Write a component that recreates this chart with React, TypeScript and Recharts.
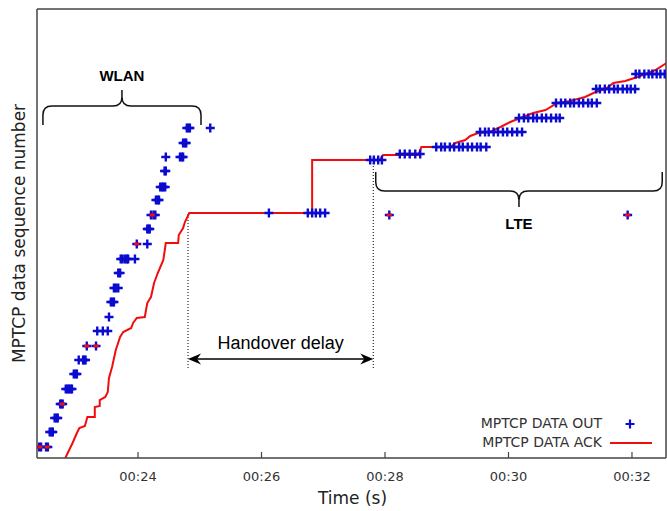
import React from 'react';
import {
  ComposedChart,
  Scatter,
  Line,
  XAxis,
  YAxis,
  ReferenceLine,
  Legend
} from 'recharts';

// time in seconds (t), MPTCP data sequence number in plot units (s)
const timeTicks = [24, 26, 28, 30, 32];
const tickLabels = ['00:24', '00:26', '00:28', '00:30', '00:32'];

// DATA OUT sent over WLAN: one row per sequence level
const wlanOut = [
  { s: 11, t: [22.4, 22.43, 22.51, 22.54] },
  { s: 26, t: [22.57, 22.6, 22.62] },
  { s: 40, t: [22.65, 22.68, 22.7] },
  { s: 54, t: [22.74, 22.76, 22.78] },
  { s: 69, t: [22.83, 22.86, 22.88, 22.91, 22.93] },
  { s: 84, t: [22.96, 22.99, 23.01] },
  { s: 98, t: [23.04, 23.11, 23.13, 23.15] },
  { s: 112, t: [23.17, 23.32] },
  { s: 127, t: [23.34, 23.43, 23.51] },
  { s: 141, t: [23.53] },
  { s: 156, t: [23.56, 23.59, 23.61] },
  { s: 170, t: [23.61, 23.64, 23.68] },
  { s: 185, t: [23.68, 23.71] },
  { s: 199, t: [23.72, 23.75, 23.79, 23.82, 23.84, 23.95] },
  { s: 214, t: [23.98, 24.15] },
  { s: 229, t: [24.15, 24.17, 24.19] },
  { s: 243, t: [24.21, 24.25, 24.28] },
  { s: 258, t: [24.29, 24.32, 24.34] },
  { s: 271, t: [24.36, 24.39, 24.41, 24.44] },
  { s: 287, t: [24.43, 24.45] },
  { s: 301, t: [24.45, 24.68, 24.71, 24.73] },
  { s: 315, t: [24.73, 24.76, 24.78] },
  { s: 330, t: [24.79, 24.82, 24.84, 25.17] }
];

// DATA OUT during the handover gap
const handoverOut = [{ s: 245, t: [26.12, 26.75, 26.82, 26.88, 26.95, 27.03] }];

// DATA OUT sent over LTE
const lteOut = [
  { s: 298, t: [27.76, 27.82, 27.89, 27.95] },
  { s: 304, t: [28.24, 28.32, 28.4, 28.49, 28.57] },
  { s: 311, t: [28.83, 28.91, 28.97, 29.05, 29.12, 29.2, 29.26, 29.34, 29.41, 29.49, 29.55, 29.64] },
  { s: 326, t: [29.54, 29.62, 29.68, 29.76, 29.83, 29.91, 29.98, 30.06, 30.14, 30.22] },
  { s: 340, t: [30.17, 30.25, 30.32, 30.4, 30.46, 30.54, 30.61, 30.69, 30.77, 30.83] },
  { s: 355, t: [30.77, 30.85, 30.92, 31.0, 31.06, 31.14, 31.21, 31.29, 31.35, 31.43] },
  { s: 369, t: [31.42, 31.48, 31.56, 31.63, 31.71, 31.77, 31.85, 31.92, 31.98, 32.05] },
  { s: 384, t: [32.06, 32.12, 32.2, 32.27, 32.33, 32.4, 32.46, 32.53] },
  { s: 243, t: [28.07, 31.93] }
];

// out packets drawn with a red centre
const redCentres = [
  { t: 22.41, s: 11 },
  { t: 22.53, s: 11 },
  { t: 22.77, s: 54 },
  { t: 23.17, s: 112 },
  { t: 23.32, s: 112 },
  { t: 23.98, s: 214 },
  { t: 24.23, s: 243 },
  { t: 28.07, s: 243 },
  { t: 31.93, s: 243 }
];

// DATA ACK curve
const ackWlan = [
  { t: 22.82, s: 0 }, { t: 22.83, s: 1 }, { t: 22.94, s: 15 }, { t: 23.01, s: 25 },
  { t: 23.05, s: 30 }, { t: 23.14, s: 32 }, { t: 23.18, s: 41 }, { t: 23.3, s: 41 },
  { t: 23.3, s: 51 }, { t: 23.38, s: 52 }, { t: 23.38, s: 58 }, { t: 23.47, s: 61 },
  { t: 23.51, s: 66 }, { t: 23.53, s: 80 }, { t: 23.58, s: 91 }, { t: 23.64, s: 108 },
  { t: 23.71, s: 121 }, { t: 23.76, s: 126 }, { t: 23.89, s: 130 }, { t: 23.92, s: 135 },
  { t: 23.98, s: 140 }, { t: 24.11, s: 141 }, { t: 24.15, s: 155 }, { t: 24.21, s: 161 },
  { t: 24.26, s: 175 }, { t: 24.32, s: 185 }, { t: 24.41, s: 198 }, { t: 24.45, s: 215 },
  { t: 24.65, s: 215 }, { t: 24.66, s: 223 }, { t: 24.73, s: 230 }, { t: 24.76, s: 236 },
  { t: 24.83, s: 245 }
];
const ackHandover = [
  { t: 26.82, s: 245 }, { t: 26.82, s: 298 }, { t: 27.92, s: 298 }
];
const ackLte = [
  { t: 27.97, s: 303 }, { t: 28.54, s: 303 }, { t: 28.59, s: 311 }, { t: 29.06, s: 311 },
  { t: 29.14, s: 315 }, { t: 29.3, s: 318 }, { t: 29.38, s: 322 }, { t: 29.51, s: 325 },
  { t: 29.7, s: 326 }, { t: 29.87, s: 331 }, { t: 30.03, s: 336 }, { t: 30.19, s: 340 },
  { t: 30.4, s: 345 }, { t: 30.6, s: 348 }, { t: 30.79, s: 355 }, { t: 31.0, s: 357 },
  { t: 31.24, s: 361 }, { t: 31.41, s: 366 }, { t: 31.57, s: 369 }, { t: 31.7, s: 375 },
  { t: 31.89, s: 377 }, { t: 32.09, s: 381 }, { t: 32.22, s: 384 }, { t: 32.38, s: 388 },
  { t: 32.56, s: 395 }
];

const flatten = (rows: { s: number; t: number[] }[]) =>
  rows.flatMap(r => r.t.map(t => ({ t, s: r.s })));

const outData = [...flatten(wlanOut), ...flatten(handoverOut), ...flatten(lteOut)];
const ackData = [...ackWlan, ...ackHandover, ...ackLte];

const X_DOMAIN: [number, number] = [22.364, 32.551];
const Y_DOMAIN: [number, number] = [0, 449];

const BLUE = '#0b0bd0';
const RED = '#f20d0d';
const FRAME = '#444';
const SANS = '"DejaVu Sans", sans-serif';
const ARIAL = '"Liberation Sans", Arial, sans-serif';

const PlusShape = (props: any) => {
  const { cx, cy } = props;
  if (cx == null || cy == null) return <g />;
  return (
    <path
      d={`M${cx - 4.5},${cy}H${cx + 4.5}M${cx},${cy - 4.5}V${cy + 4.5}`}
      stroke={BLUE}
      strokeWidth={2.4}
      fill="none"
    />
  );
};

const RedCentre = (props: any) => {
  const { cx, cy } = props;
  if (cx == null || cy == null) return <g />;
  return <rect x={cx - 2.5} y={cy - 1.5} width={5} height={3} fill={RED} />;
};

const BottomTick = (props: any) => {
  const { x, y, payload } = props;
  const i = timeTicks.indexOf(payload.value);
  return (
    <g>
      <line x1={x} y1={y} x2={x} y2={y - 6} stroke={FRAME} strokeWidth={1.2} />
      <text x={x} y={y + 23} textAnchor="middle" fontSize={13} fill="#333" fontFamily={SANS}>
        {tickLabels[i]}
      </text>
    </g>
  );
};

const TopTick = (props: any) => {
  const { x, y } = props;
  return <line x1={x} y1={y} x2={x} y2={y + 6} stroke={FRAME} strokeWidth={1.2} />;
};

// curly brace drawn along a reference segment; dir -1 puts the tip above
const braceShape = (dir: number, label: string, labelGap: number) => (p: any) => {
  const { x1, y1, x2 } = p;
  if (x1 == null) return <g />;
  const r = 9;
  const mid = (x1 + x2) / 2;
  const yh = y1 + dir * 19;
  const yt = y1 + dir * 35;
  const d =
    `M${x1},${y1}V${yh - dir * r}Q${x1},${yh} ${x1 + r},${yh}H${mid - r}` +
    `Q${mid},${yh} ${mid},${yh + dir * r}V${yt}` +
    `M${mid},${yh + dir * r}Q${mid},${yh} ${mid + r},${yh}H${x2 - r}` +
    `Q${x2},${yh} ${x2},${yh - dir * r}V${y1}`;
  return (
    <g>
      <path d={d} stroke="#111" strokeWidth={1.5} fill="none" />
      <text
        x={mid}
        y={yt + dir * labelGap + 5.5}
        textAnchor="middle"
        fontSize={15}
        fontWeight="bold"
        fontFamily={ARIAL}
        fill="#000"
      >
        {label}
      </text>
    </g>
  );
};

const ArrowShape = (p: any) => {
  const { x1, y1, x2 } = p;
  if (x1 == null) return <g />;
  const y = y1;
  return (
    <g>
      <line x1={x1 + 6} y1={y} x2={x2 - 6} y2={y} stroke="#000" strokeWidth={1.5} />
      <path d={`M${x1},${y}L${x1 + 13},${y - 5.5}L${x1 + 9},${y}L${x1 + 13},${y + 5.5}Z`} fill="#000" />
      <path d={`M${x2},${y}L${x2 - 13},${y - 5.5}L${x2 - 9},${y}L${x2 - 13},${y + 5.5}Z`} fill="#000" />
      <text x={(x1 + x2) / 2} y={y - 10} textAnchor="middle" fontSize={18} fontFamily={ARIAL} fill="#000">
        Handover delay
      </text>
    </g>
  );
};

const LegendContent = () => (
  <div style={{ position: 'relative', width: 245, height: 45, fontFamily: SANS, fontSize: 14, color: '#333' }}>
    <span style={{ position: 'absolute', right: 63, top: 5, lineHeight: '17px', whiteSpace: 'nowrap' }}>
      MPTCP DATA OUT
    </span>
    <svg style={{ position: 'absolute', left: 204, top: 8 }} width={12} height={12}>
      <path d="M1.5,6H10.5M6,1.5V10.5" stroke={BLUE} strokeWidth={2.2} />
    </svg>
    <span style={{ position: 'absolute', right: 63, top: 24, lineHeight: '17px', whiteSpace: 'nowrap' }}>
      MPTCP DATA ACK
    </span>
    <svg style={{ position: 'absolute', left: 190, top: 28 }} width={44} height={10}>
      <line x1={0} y1={5} x2={42} y2={5} stroke={RED} strokeWidth={2} />
    </svg>
  </div>
);

export default function App() {
  return (
    <div style={{ position: 'absolute', left: 0, top: 0, width: 667, height: 511, background: '#fff' }}>
      <ComposedChart width={667} height={511} margin={{ top: 0, right: 0, bottom: 0, left: 0 }}>
        <XAxis
          dataKey="t"
          type="number"
          domain={X_DOMAIN}
          allowDataOverflow
          ticks={timeTicks}
          interval={0}
          height={53}
          tickSize={0}
          tickMargin={0}
          tickLine={false}
          tick={<BottomTick />}
          axisLine={{ stroke: FRAME, strokeWidth: 1.5 }}
          label={{
            content: (lp: any) => {
              const vb = lp.viewBox || { x: 37, y: 458, width: 629 };
              return (
                <text x={vb.x + vb.width / 2 + 1} y={vb.y + 46} textAnchor="middle" fontSize={17} fontFamily={SANS} fill="#222">
                  Time (s)
                </text>
              );
            }
          }}
        />
        <XAxis
          xAxisId="top"
          orientation="top"
          type="number"
          domain={X_DOMAIN}
          allowDataOverflow
          ticks={timeTicks}
          interval={0}
          height={9}
          tickSize={0}
          tickMargin={0}
          tickLine={false}
          tick={<TopTick />}
          axisLine={{ stroke: FRAME, strokeWidth: 1.5 }}
        />
        <YAxis
          dataKey="s"
          type="number"
          domain={Y_DOMAIN}
          allowDataOverflow
          width={37}
          tick={false}
          tickLine={false}
          axisLine={{ stroke: FRAME, strokeWidth: 1.5 }}
          label={{
            content: (lp: any) => {
              const vb = lp.viewBox || { x: 0, y: 9, width: 37, height: 449 };
              const cx = vb.x + 19;
              const cy = vb.y + vb.height / 2;
              return (
                <text
                  x={cx}
                  y={cy}
                  transform={`rotate(-90 ${cx} ${cy})`}
                  textAnchor="middle"
                  dominantBaseline="central"
                  fontSize={17}
                  fontFamily={SANS}
                  fill="#222"
                >
                  MPTCP data sequence number
                </text>
              );
            }
          }}
        />
        <YAxis
          yAxisId="right"
          orientation="right"
          type="number"
          domain={Y_DOMAIN}
          width={1}
          tick={false}
          tickLine={false}
          axisLine={{ stroke: FRAME, strokeWidth: 1.5 }}
        />

        <ReferenceLine
          segment={[{ x: 24.81, y: 90 }, { x: 24.81, y: 245 }]}
          stroke="#000"
          strokeWidth={1}
          strokeDasharray="1 2"
        />
        <ReferenceLine
          segment={[{ x: 27.81, y: 90 }, { x: 27.81, y: 303 }]}
          stroke="#000"
          strokeWidth={1}
          strokeDasharray="1 2"
        />
        <ReferenceLine segment={[{ x: 24.81, y: 99 }, { x: 27.81, y: 99 }]} shape={ArrowShape} />
        <ReferenceLine segment={[{ x: 22.46, y: 333 }, { x: 25.02, y: 333 }]} shape={braceShape(-1, 'WLAN', 15)} />
        <ReferenceLine segment={[{ x: 27.85, y: 286 }, { x: 32.49, y: 286 }]} shape={braceShape(1, 'LTE', 16)} />

        <Scatter name="MPTCP DATA OUT" data={outData} shape={PlusShape} isAnimationActive={false} />
        <Scatter name="retransmitted" data={redCentres} shape={RedCentre} isAnimationActive={false} legendType="none" />
        <Line
          name="MPTCP DATA ACK"
          data={ackData}
          dataKey="s"
          type="linear"
          stroke={RED}
          strokeWidth={2}
          dot={false}
          activeDot={false}
          isAnimationActive={false}
        />

        <Legend
          layout="vertical"
          align="center"
          verticalAlign="middle"
          wrapperStyle={{ left: 420, top: 410, width: 245, height: 45 }}
          content={<LegendContent />}
        />
      </ComposedChart>
    </div>
  );
}
